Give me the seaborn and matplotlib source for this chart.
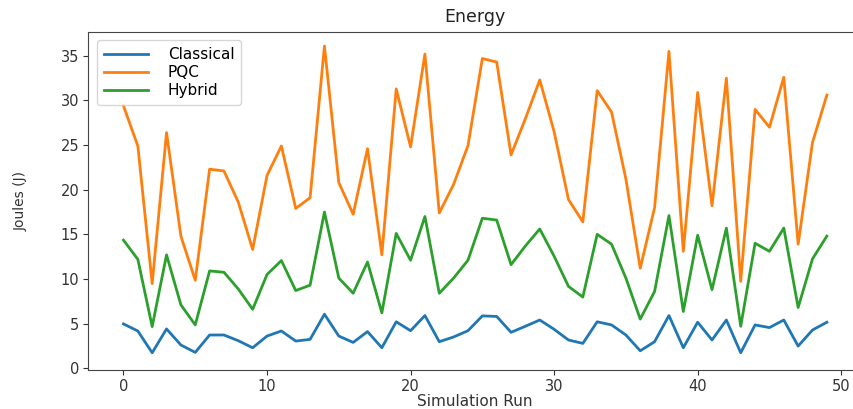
import matplotlib
matplotlib.use("Agg")
import matplotlib.pyplot as plt
import numpy as np
import pandas as pd
import seaborn as sns

runs = list(range(50))

classical = [4.96, 4.17, 1.73, 4.4, 2.6, 1.77, 3.72, 3.72, 3.08, 2.29,
             3.6, 4.17, 3.04, 3.23, 6.05, 3.6, 2.89, 4.1, 2.29, 5.2,
             4.2, 5.9, 2.97, 3.5, 4.2, 5.86, 5.8, 4.02, 4.7, 5.4,
             4.36, 3.16, 2.78, 5.2, 4.85, 3.72, 1.95, 2.97, 5.9, 2.29,
             5.15, 3.16, 5.4, 1.73, 4.85, 4.55, 5.4, 2.48, 4.28, 5.15]

pqc = [29.4, 24.9, 9.47, 26.4, 14.8, 9.85, 22.3, 22.1, 18.6, 13.3,
       21.6, 24.9, 17.9, 19.1, 36.1, 20.8, 17.25, 24.6, 12.7, 31.3,
       24.8, 35.2, 17.4, 20.6, 24.95, 34.7, 34.3, 23.9, 27.96, 32.3,
       26.5, 18.9, 16.4, 31.1, 28.7, 21.2, 11.2, 18.0, 35.5, 13.1,
       30.9, 18.2, 32.5, 9.73, 29.0, 27.0, 32.6, 13.9, 25.3, 30.6]

hybrid = [14.35, 12.2, 4.66, 12.7, 7.1, 4.85, 10.9, 10.75, 8.87, 6.6,
          10.5, 12.06, 8.7, 9.3, 17.5, 10.1, 8.4, 11.9, 6.2, 15.1,
          12.1, 17.0, 8.4, 10.1, 12.1, 16.8, 16.6, 11.6, 13.7, 15.6,
          12.55, 9.17, 7.97, 15.0, 13.9, 10.1, 5.5, 8.6, 17.1, 6.35,
          14.9, 8.8, 15.7, 4.7, 14.0, 13.1, 15.7, 6.8, 12.25, 14.8]

series_names = ["Classical", "PQC", "Hybrid"]
series_values = [classical, pqc, hybrid]

frame = pd.concat(
    [pd.DataFrame({"Simulation Run": runs, "Joules": vals, "Method": name})
     for name, vals in zip(series_names, series_values)],
    ignore_index=True,
)

plt.rcParams["font.family"] = ["DejaVu Sans"]

fig = plt.figure(figsize=(8.54, 4.09), dpi=100)
ax = fig.add_axes([0.1034, 0.0954, 0.906, 0.827])

sns.lineplot(
    data=frame, x="Simulation Run", y="Joules", hue="Method",
    hue_order=series_names,
    palette=["#1f77b4", "#ff7f0e", "#2ca02c"],
    linewidth=2.0, ax=ax,
)

for spine in ax.spines.values():
    spine.set_color("#444444")

ax.set_xlim(-2.45, 51.45)
ax.set_ylim(-0.2, 37.7)
ax.set_xticks([0, 10, 20, 30, 40, 50])
ax.set_yticks([0, 5, 10, 15, 20, 25, 30, 35])
ax.tick_params(labelsize=10.5, colors="#333333", pad=3)
ax.set_title("Energy", fontsize=12.5, color="#222222", pad=7)
ax.set_xlabel("Simulation Run", fontsize=11, color="#333333", labelpad=0)
ax.set_ylabel("Joules (J)", fontsize=10, color="#333333", labelpad=24,
              family=["Liberation Sans Narrow", "DejaVu Sans"])

leg = ax.legend(loc="upper left", fontsize=11, handlelength=2.9,
                handletextpad=1.3, borderpad=0.45, labelspacing=0.2,
                borderaxespad=0.55)
leg.set_title(None)

fig.savefig("out.png", dpi=100)
